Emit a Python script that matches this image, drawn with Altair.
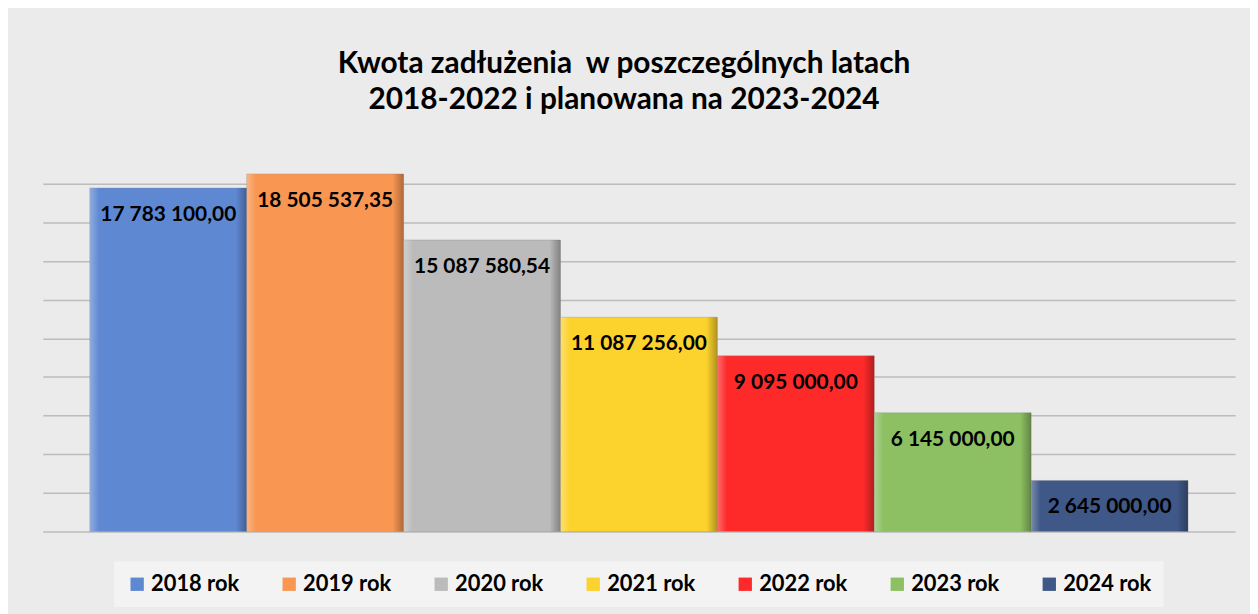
import altair as alt
import pandas as pd

years = ["2018 rok", "2019 rok", "2020 rok", "2021 rok", "2022 rok", "2023 rok", "2024 rok"]
values = [17783100.00, 18505537.35, 15087580.54, 11087256.00, 9095000.00, 6145000.00, 2645000.00]
colors = ["#5F88D3", "#F89652", "#BBBBBB", "#FCD22D", "#FE2A2A", "#8CC062", "#3F5888"]
grid_values = [0, 2000000, 4000000, 6000000, 8000000, 10000000, 12000000, 14000000, 16000000, 18000000]
title_lines = ["Kwota zadłużenia \u00a0w poszczególnych latach", "2018-2022 i planowana na 2023-2024"]


def fmt(v):
    return f"{v:,.2f}".replace(",", " ").replace(".", ",")


labels = [fmt(v) for v in values]
df = pd.DataFrame({"rok": years, "kwota": values, "etykieta": labels})

FONT = "Lato"

base = alt.Chart(df).encode(
    x=alt.X("rok:N", sort=years, axis=None,
            scale=alt.Scale(paddingInner=0, paddingOuter=0.30)),
    y=alt.Y("kwota:Q",
            scale=alt.Scale(domain=[0, 20000000], nice=False),
            axis=alt.Axis(values=grid_values, grid=True, labels=False, ticks=False,
                          domain=False, title=None, gridColor="#bcbcbc", gridWidth=1.5)),
)

bars = base.mark_bar(stroke="#8a8a8a", strokeWidth=0.6, strokeOpacity=0.6).encode(
    color=alt.Color(
        "rok:N", sort=years,
        scale=alt.Scale(domain=years, range=colors),
        legend=alt.Legend(
            title=None, orient="none", legendX=72, legendY=419,
            direction="horizontal", columns=7,
            symbolType="square", symbolSize=180, symbolStrokeWidth=0,
            labelFont=FONT, labelFontSize=22, labelFontWeight="bold", labelColor="black",
            labelOffset=3, columnPadding=39, fillColor="#f3f3f3", padding=12,
        ),
    )
)

shade = base.mark_bar(
    color=alt.Gradient(
        gradient="linear", x1=0, x2=1, y1=0, y2=0,
        stops=[
            alt.GradientStop(color="rgba(255,255,255,0.30)", offset=0),
            alt.GradientStop(color="rgba(255,255,255,0)", offset=0.06),
            alt.GradientStop(color="rgba(0,0,0,0)", offset=0.93),
            alt.GradientStop(color="rgba(0,0,0,0.30)", offset=1),
        ],
    )
)

text = base.mark_text(
    baseline="middle", align="center", dy=27,
    font=FONT, fontSize=21, fontWeight="bold", color="black",
).encode(text="etykieta:N")

chart = alt.layer(bars, shade, text).properties(
    width=1200,
    height=389,
    autosize=alt.AutoSizeParams(type="none"),
    padding={"left": 35, "top": 136, "right": 15, "bottom": 81},
    title=alt.TitleParams(
        text=title_lines, font=FONT, fontSize=30, fontWeight="bold", color="black",
        anchor="middle", offset=30, lineHeight=37, dx=-15,
    ),
).configure(background="#ebebeb").configure_view(stroke=None)

chart.save("out.html", embed_options={"renderer": "svg", "actions": False})
